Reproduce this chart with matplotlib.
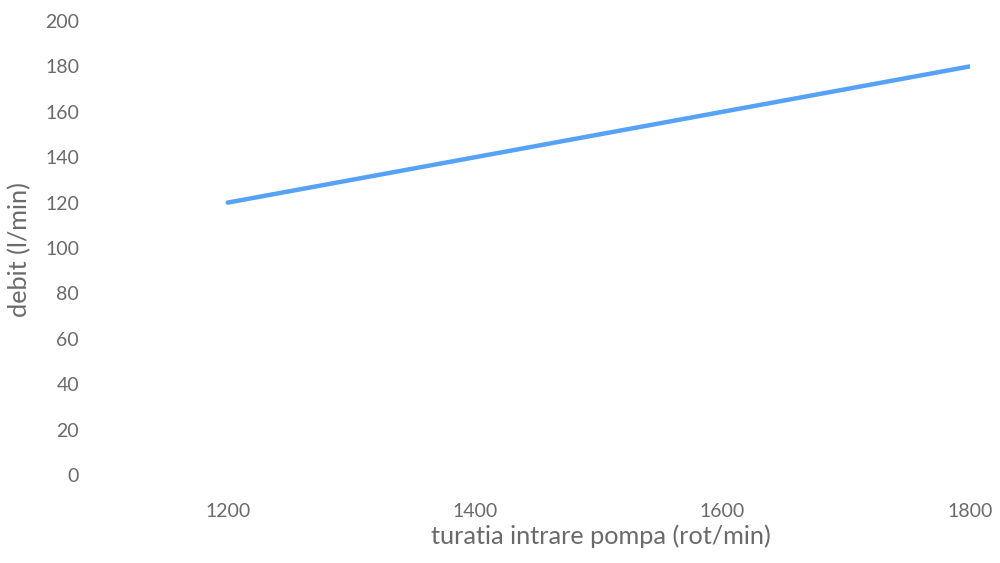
import matplotlib
matplotlib.use("Agg")
import matplotlib.pyplot as plt

# pump inlet speed vs. flow rate
turatia = [1200, 1400, 1600, 1800]
debit = [120, 140, 160, 180]
x_ticks = [1200, 1400, 1600, 1800]
y_ticks = [0, 20, 40, 60, 80, 100, 120, 140, 160, 180, 200]

plt.rcParams['font.family'] = ['Lato', 'DejaVu Sans']
text_color = '#6a6a6a'

fig = plt.figure(figsize=(10, 5.63), dpi=100)
ax = fig.add_axes([0.104, 0.1563, 0.866, 0.8064])

ax.plot(turatia, debit, color='#55A2F7', linewidth=3.2, solid_capstyle='round')

ax.set_xlim(1100, 1800)
ax.set_ylim(0, 200)
ax.set_xticks(x_ticks)
ax.set_yticks(y_ticks)

for s in ax.spines.values():
    s.set_visible(False)
ax.tick_params(axis='both', length=0, labelsize=14, colors=text_color)
ax.tick_params(axis='x', pad=20)
ax.tick_params(axis='y', pad=18)

fig.text(0.601, 0.027, 'turatia intrare pompa (rot/min)', ha='center', va='bottom',
         fontsize=18.2, color=text_color)
fig.text(0.020, 0.557, 'debit (l/min)', ha='center', va='center', rotation=90,
         fontsize=18.2, color=text_color)

fig.savefig('out.png', dpi=100, facecolor='white')
